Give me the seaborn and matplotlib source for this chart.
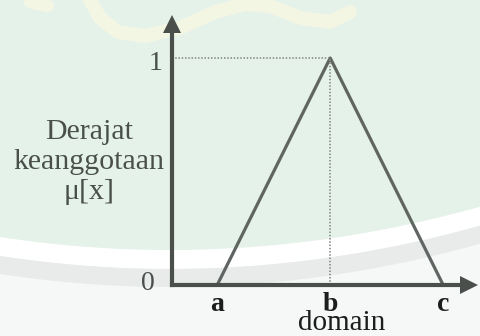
import numpy as np
import pandas as pd
import matplotlib
matplotlib.use("Agg")
import matplotlib.pyplot as plt
from matplotlib.transforms import blended_transform_factory
import seaborn as sns

# Triangular membership function mu(x) defined by points a, b, c
points = ["a", "b", "c"]
domain_values = [1.0, 3.5, 6.0]
membership = [0.0, 1.0, 0.0]
y_ticks = [0, 1]
y_tick_labels = ["0", "1"]

sns.set_theme(style="white")
plt.rcParams["font.family"] = ["Liberation Serif", "DejaVu Serif"]

ink = "#4a4f4c"
line_col = "#606562"
dark = "#1c1e1d"
bg = "#e5f2ea"

W, H = 480, 336
fig = plt.figure(figsize=(4.8, 3.36), dpi=100)
fig.patch.set_facecolor(bg)

# soft page background (pixel space): curved bands and a faint cream stroke
bgax = fig.add_axes([0, 0, 1, 1], zorder=0)
bgax.set_xlim(0, W)
bgax.set_ylim(H, 0)
bgax.axis("off")
xs = np.linspace(0, W, 300)
edge = 250 - 4.5e-4 * (xs - 170) ** 2
bgax.fill_between(xs, edge, edge + 19, color="white", lw=0)
bgax.fill_between(xs, edge + 19, edge + 37, color="#e9ebea", lw=0)
bgax.fill_between(xs, edge + 37, H, color="#f5f8f6", lw=0)
stroke_x = [88, 100, 118, 145, 180, 215, 245, 270, 300, 330, 350]
stroke_y = [-4, 18, 32, 36, 28, 12, 4, 6, 18, 22, 12]
bgax.plot(stroke_x, stroke_y, color="#f4f6e4", lw=10, solid_capstyle="round",
          solid_joinstyle="round")
bgax.plot([30, 48], [2, 6], color="#f4f6e4", lw=9, solid_capstyle="round")

# main axes: y-axis at x=172 px, x-axis at y=285 px
left, bottom = 172 / W, (H - 285) / H
ax = fig.add_axes([left, bottom, (469 - 172) / W, (285 - 24) / H], zorder=1)
ax.patch.set_alpha(0)

df = pd.DataFrame({"x": domain_values, "mu": membership})
sns.lineplot(data=df, x="x", y="mu", ax=ax, color=line_col, lw=2.3,
             sort=False, estimator=None)

# dotted guides to the peak
peak_x = domain_values[1]
peak_y = membership[1]
dots = dict(ls=(0, (0.8, 1.0)), color="#8c918e", lw=1.3)
ax.plot([0, peak_x], [peak_y, peak_y], **dots)
ax.plot([peak_x, peak_x], [0, peak_y], **dots)

ax.set_xlim(0, 297 / 45.2)
ax.set_ylim(0, 261 / 227)

for side in ["top", "right"]:
    ax.spines[side].set_visible(False)
for side in ["left", "bottom"]:
    ax.spines[side].set_color(ink)
    ax.spines[side].set_linewidth(3.0)
    ax.spines[side].set_zorder(3)

# arrow heads at the axis ends
ax.plot(1, 0, ">", transform=ax.transAxes, color=ink, ms=13, mew=0,
        clip_on=False, zorder=4)
ax.plot(0, 1, "^", transform=ax.transAxes, color=ink, ms=13, mew=0,
        clip_on=False, zorder=4)

# y tick labels placed beside the axis
ax.set_yticks([])
ytrans = blended_transform_factory(ax.transAxes, ax.transData)
offsets = {0: (-17, 1), 1: (-10, -5)}
for val, lab in zip(y_ticks, y_tick_labels):
    ax.annotate(lab, xy=(0, val), xycoords=ytrans, xytext=offsets[val],
                textcoords="offset pixels", ha="right", va="center",
                fontsize=20, color=ink)

ax.set_xticks(domain_values)
ax.set_xticklabels(points, fontsize=20, color=dark, fontweight="bold")
ax.tick_params(axis="x", length=0, pad=5)
ax.set_xlabel("domain", fontsize=21, color=dark, va="top")
ax.xaxis.set_label_coords((342 - 172) / 297, -(310 - 285) / 261)
ax.set_ylabel("")
ax.grid(False)

fig.text(89 / W, 1 - 162 / H, "Derajat\nkeanggotaan\nμ[x]", ha="center",
         va="center", fontsize=21.5, color=ink, linespacing=1.22)

fig.savefig("out.png", dpi=100, facecolor=fig.get_facecolor())
